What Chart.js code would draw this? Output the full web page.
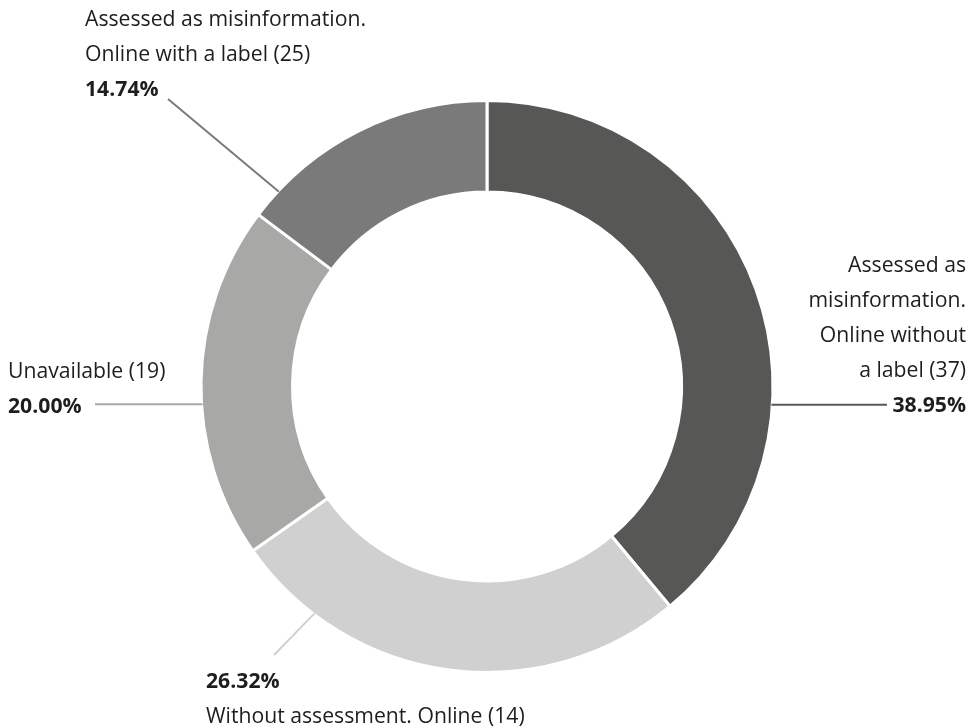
<!DOCTYPE html>
<html>
<head>
<meta charset="utf-8">
<script src="https://cdn.jsdelivr.net/npm/chart.js@4/dist/chart.umd.min.js"></script>
<style>
html, body { margin: 0; padding: 0; background: #fff; }
#wrap { width: 974px; height: 728px; position: relative; }
</style>
</head>
<body>
<div id="wrap"><canvas id="c"></canvas></div>
<script>
var categories = [
    ['Assessed as', 'misinformation.', 'Online without', 'a label (37)'],
    ['Without assessment. Online (14)'],
    ['Unavailable (19)'],
    ['Assessed as misinformation.', 'Online with a label (25)']
];
var counts = [37, 25, 19, 14];
var colors = ['#575755', '#d0d0d0', '#a8a8a6', '#7a7a7a'];

// label placement: where the leader leaves the slice (0..1 along it), where it ends, text block
var labelLayout = [
    { along: 0.668, endX: 887, endY: null, x: 966, align: 'right', base: 272, pctFirst: false },
    { along: 0.813, endX: 274, endY: 655, x: 206, align: 'left', base: 688, pctFirst: true },
    { along: 0.437, endX: 95, endY: null, x: 8, align: 'left', base: 378, pctFirst: false },
    { along: 0.116, endX: 168, endY: 99, x: 85, align: 'left', base: 26, pctFirst: false }
];
var lineHeight = 35;
var fontSize = 21.2;
var fontName = '"Open Sans", "Noto Sans", sans-serif';

var total = counts.reduce(function(a, b) { return a + b; }, 0);

var outsideLabels = {
    id: 'outsideLabels',
    afterDatasetsDraw: function(chart)
    {
        var ctx = chart.ctx;
        var arcs = chart.getDatasetMeta(0).data;
        ctx.save();
        arcs.forEach(function(arc, i)
        {
            var lay = labelLayout[i];
            var p = arc.getProps(['x', 'y', 'startAngle', 'endAngle', 'outerRadius'], true);
            var a = p.startAngle + lay.along * (p.endAngle - p.startAngle);
            var sx = p.x + Math.cos(a) * (p.outerRadius - 1);
            var sy = p.y + Math.sin(a) * (p.outerRadius - 1);
            var ey = lay.endY === null ? sy : lay.endY;

            ctx.strokeStyle = colors[i];
            ctx.lineWidth = 2;
            ctx.beginPath();
            ctx.moveTo(sx, sy);
            ctx.lineTo(lay.endX, ey);
            ctx.stroke();

            var pct = (counts[i] / total * 100).toFixed(2) + '%';
            var rows = categories[i].map(function(t) { return { text: t, bold: false }; });
            if (lay.pctFirst) rows.unshift({ text: pct, bold: true });
            else rows.push({ text: pct, bold: true });

            ctx.fillStyle = '#1e1e1e';
            ctx.textAlign = lay.align;
            ctx.textBaseline = 'alphabetic';
            rows.forEach(function(r, k)
            {
                ctx.font = (r.bold ? '700 ' : '400 ') + fontSize + 'px ' + fontName;
                ctx.fillText(r.text, lay.x, lay.base + k * lineHeight);
            });
        });
        ctx.restore();
    }
};

new Chart(document.getElementById('c'), {
    type: 'doughnut',
    data: {
        labels: categories,
        datasets: [{
            data: counts,
            backgroundColor: colors,
            borderColor: '#fff',
            borderWidth: 3,
            hoverOffset: 0
        }]
    },
    options: {
        responsive: true,
        maintainAspectRatio: false,
        animation: false,
        cutout: '68%',
        layout: { padding: { top: 99, bottom: 54, left: 0, right: 0 } },
        plugins: {
            legend: { display: false },
            tooltip: { enabled: false }
        }
    },
    plugins: [outsideLabels]
});
</script>
</body>
</html>
